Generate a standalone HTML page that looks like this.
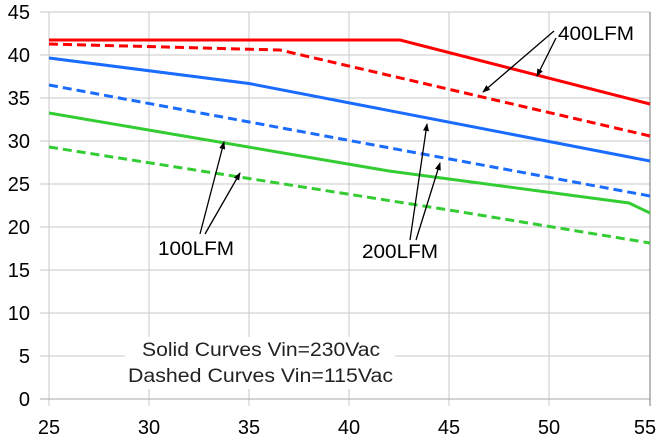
<!DOCTYPE html><html><head><style>body{margin:0;background:#fff}svg{display:block;font-family:"Liberation Sans",sans-serif}</style></head><body>
<svg width="662" height="440" viewBox="0 0 662 440">
<defs><marker id="a" markerWidth="8" markerHeight="8" refX="7" refY="4" orient="auto" markerUnits="userSpaceOnUse"><path d="M0,1 L8,4 L0,7 z" fill="#000"/></marker></defs>
<g stroke="#c8c8c8" stroke-width="1">
<line x1="40" y1="12" x2="650" y2="12"/><line x1="40" y1="55" x2="650" y2="55"/><line x1="40" y1="98" x2="650" y2="98"/><line x1="40" y1="141" x2="650" y2="141"/><line x1="40" y1="184" x2="650" y2="184"/><line x1="40" y1="227" x2="650" y2="227"/><line x1="40" y1="270" x2="650" y2="270"/><line x1="40" y1="313" x2="650" y2="313"/><line x1="40" y1="356" x2="650" y2="356"/>
<line x1="49" y1="12" x2="49" y2="406"/><line x1="149" y1="12" x2="149" y2="406"/><line x1="249" y1="12" x2="249" y2="406"/><line x1="349" y1="12" x2="349" y2="406"/><line x1="449" y1="12" x2="449" y2="406"/><line x1="549" y1="12" x2="549" y2="406"/>
</g>
<line x1="40" y1="399" x2="650" y2="399" stroke="#aaa"/>
<line x1="650" y1="12" x2="650" y2="406" stroke="#777"/>
<rect x="125" y="337" width="270" height="52" fill="#fff"/>
<g fill="none" stroke-width="3">
<polyline stroke="#f00" points="49,40 400,40 650,104"/>
<polyline stroke="#f00" stroke-dasharray="9,5" points="49,44 280,50 650,136"/>
<polyline stroke="#1a6cff" points="49,58 249,83.5 650,161"/>
<polyline stroke="#1a6cff" stroke-dasharray="9,5" points="49,85 650,196"/>
<polyline stroke="#3c3" points="49,113 389,171 629,203 650,213"/>
<polyline stroke="#3c3" stroke-dasharray="9,5" points="49,147 449,210 650,243"/>
</g>
<g stroke="#000" stroke-width="1.3" marker-end="url(#a)">
<line x1="554" y1="31" x2="483" y2="92"/><line x1="556" y1="38" x2="537" y2="76"/>
<line x1="200" y1="234" x2="224" y2="142"/><line x1="205" y1="234" x2="240" y2="173"/>
<line x1="410" y1="240" x2="427" y2="124"/><line x1="416" y1="240" x2="440" y2="163"/>
</g>
<g font-size="19" fill="#000">
<text x="558" y="40" textLength="76" lengthAdjust="spacingAndGlyphs">400LFM</text><text x="158" y="255" textLength="76" lengthAdjust="spacingAndGlyphs">100LFM</text><text x="362" y="258" textLength="76" lengthAdjust="spacingAndGlyphs">200LFM</text>
</g>
<g font-size="19" fill="#222">
<text x="142" y="356" textLength="238" lengthAdjust="spacingAndGlyphs">Solid Curves Vin=230Vac</text><text x="128" y="382" textLength="265" lengthAdjust="spacingAndGlyphs">Dashed Curves Vin=115Vac</text>
</g>
<g font-size="20" fill="#000" text-anchor="end">
<text x="30" y="19">45</text><text x="30" y="62">40</text><text x="30" y="105">35</text><text x="30" y="148">30</text><text x="30" y="191">25</text><text x="30" y="234">20</text><text x="30" y="277">15</text><text x="30" y="320">10</text><text x="30" y="363">5</text><text x="30" y="406">0</text>
</g>
<g font-size="20" fill="#000" text-anchor="middle">
<text x="49" y="434">25</text><text x="149" y="434">30</text><text x="249" y="434">35</text><text x="349" y="434">40</text><text x="449" y="434">45</text><text x="549" y="434">50</text><text x="645" y="434">55</text>
</g>
</svg></body></html>
